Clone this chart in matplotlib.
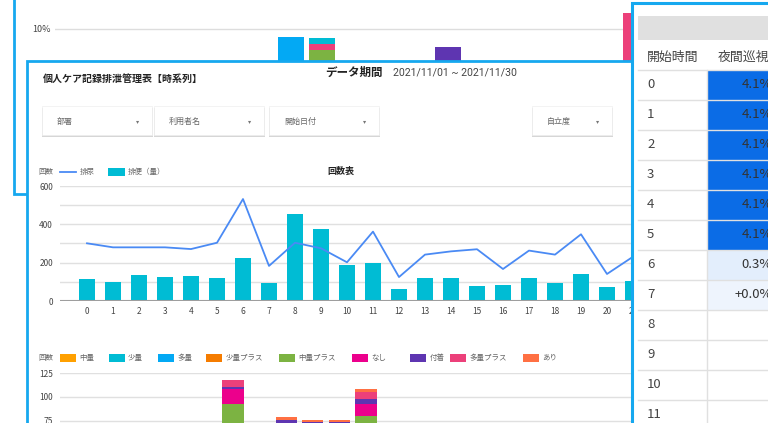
import matplotlib.pyplot as plt
from matplotlib.patches import Rectangle

plt.rcParams['font.family'] = ['Noto Sans CJK JP', 'DejaVu Sans']

# --- data -------------------------------------------------------------
# background chart (percent share, partly hidden)
bg_cats = [7, 8, 12, 18]
bg_green = [0, 8.76, 0, 0]
bg_pink = [0, 0.36, 0, 10.94]
bg_cyan = [0, 0.35, 0, 0]
bg_blue = [9.53, 0, 0, 0]
bg_purple = [0, 0, 8.94, 0]

# 回数表 (hours 0-21 visible)
hours = list(range(22))
urine = [301, 280, 280, 280, 271, 304, 532, 183, 304, 275, 202, 362,
         125, 242, 259, 270, 167, 263, 242, 348, 141, 231]
stool = [115, 101, 137, 125, 129, 122, 226, 92, 456, 377, 190, 197,
         61, 120, 120, 78, 84, 120, 94, 139, 75, 103]

# stacked chart by amount
stack_hours = [6, 8, 9, 10, 11]
stack_names = ['中量', '少量', '多量', '少量プラス', '中量プラス', 'なし', '付着', '多量プラス', 'あり']
stack_colors = ['#FFA000', '#00BCD4', '#03A9F4', '#F57C00', '#7CB342',
                '#EC008C', '#5E35B1', '#EC407A', '#FF7043']
stack_vals = [
    [0, 0, 0, 0, 0],
    [0, 0, 0, 0, 0],
    [0, 0, 0, 0, 0],
    [0, 0, 0, 0, 0],
    [93, 62, 55, 55, 80],
    [15, 9, 10, 10, 13],
    [3, 5, 8, 8, 5],
    [7, 0, 0, 0, 7],
    [0, 3, 3, 3, 3],
]

# table
table_hours = list(range(12))
table_vals = ['4.1%'] * 6 + ['0.3%', '+0.0%'] + ['-'] * 4
table_cols = ['#0B6CE6'] * 6 + ['#E3EEFC', '#EEF4FD'] + ['white'] * 4

W, H = 768, 423
BLUE = '#16A8EF'
fig = plt.figure(figsize=(7.68, 4.23), dpi=100)


def box(x0, y0, x1, y1, z):
    return fig.add_axes([x0 / W, 1 - y1 / H, (x1 - x0) / W, (y1 - y0) / H], zorder=z)


def layer(z):
    ax = box(0, 0, W, H, z)
    ax.set_xlim(0, W)
    ax.set_ylim(H, 0)
    ax.axis('off')
    return ax


# --- background panel --------------------------------------------------
L0 = layer(0)
L0.add_patch(Rectangle((14, -20), 900, 214, fc='white', ec=BLUE, lw=2))

ax0 = box(55, 0, W, 199, 1)
ax0.patch.set_alpha(0)
w0 = 0.83
ax0.bar(bg_cats, bg_blue, w0, color='#03A9F4')
ax0.bar(bg_cats, bg_purple, w0, color='#5E35B1')
ax0.bar(bg_cats, bg_green, w0, color='#7CB342')
ax0.bar(bg_cats, bg_pink, w0, bottom=bg_green, color='#EC407A')
ax0.bar(bg_cats, bg_cyan, w0, bottom=[a + b for a, b in zip(bg_green, bg_pink)], color='#00BCD4')
ax0.set_xlim(-0.5, 22.2)
ax0.set_ylim(0, 199 / 17)
ax0.set_yticks([10], ['10%'])
ax0.set_xticks([])
ax0.grid(axis='y', color='#DDDDDD', lw=1)
ax0.set_axisbelow(True)
ax0.tick_params(length=0, labelsize=6.5, colors='#444', pad=3)
for s in ax0.spines.values():
    s.set_visible(False)

# --- front panel -------------------------------------------------------
L1 = layer(2)
L1.add_patch(Rectangle((27, 61), 700, 400, fc='white', ec=BLUE, lw=2))
L1.text(43, 79, '個人ケア記録排泄管理表【時系列】', fontsize=7.2, fontweight='bold',
        color='#222', va='center')
L1.text(325, 72, 'データ期間', fontsize=8.3, fontweight='bold', color='#222', va='center')
L1.text(393, 72.5, '2021/11/01 ~ 2021/11/30', fontsize=7.6, color='#444', va='center',
        family='Roboto')

for x0, x1, lab in [(42, 153, '部署'), (154, 265, '利用者名'), (269, 380, '開始日付'),
                    (532, 613, '自立度')]:
    L1.add_patch(Rectangle((x0, 108), x1 - x0, 29, fc='#D6D6D6', ec='none'))
    L1.add_patch(Rectangle((x0, 106.5), x1 - x0 - 1, 29, fc='white', ec='#EEEEEE', lw=0.5))
    L1.text(x0 + 15, 121, lab, fontsize=5.8, color='#666', va='center')
    L1.text(x1 - 15, 121, '▾', fontsize=4.5, color='#777', va='center', ha='center')

# legend chart 1
L1.text(38, 172, '回数', fontsize=5.4, color='#666', va='center')
L1.plot([60, 76], [172, 172], color='#4A8AF4', lw=1.3)
L1.text(80, 172, '排尿', fontsize=5.4, color='#666', va='center')
L1.add_patch(Rectangle((108, 168.5), 17, 7.5, fc='#00BCD4'))
L1.text(128, 172, '排便（量）', fontsize=5.4, color='#666', va='center')
L1.text(341, 171.5, '回数表', fontsize=6.5, fontweight='bold', color='#222',
        va='center', ha='center')

# legend chart 2
L1.text(38, 358, '回数', fontsize=5.4, color='#666', va='center')
leg_x = [60, 108.5, 158, 206, 279, 352, 410, 450, 523]
for lx, name, col in zip(leg_x, stack_names, stack_colors):
    L1.add_patch(Rectangle((lx, 354.5), 16, 7.5, fc=col))
    L1.text(lx + 19.5, 358, name, fontsize=5.4, color='#666', va='center')

# --- chart 1: 回数表 ----------------------------------------------------
ax1 = box(60, 186, 700, 301, 3)
ax1.patch.set_alpha(0)
ax1.bar(hours, stool, 0.65, color='#00BCD4', zorder=2)
ax1.plot(hours, urine, color='#4A8AF4', lw=1.3, zorder=3)
ax1.axhline(0, color='#9E9E9E', lw=1.5, zorder=4)
ax1.set_xlim(-27 / 26, (700 - 87) / 26)
ax1.set_ylim(0, 600)
ax1.set_yticks([0, 200, 400, 600])
ax1.set_yticks([100, 300, 500], minor=True)
ax1.set_xticks(hours)
ax1.grid(axis='y', which='both', color='#E0E0E0', lw=1)
ax1.set_axisbelow(True)
ax1.tick_params(which='both', length=0, labelsize=6, colors='#444')
ax1.tick_params(axis='y', pad=5)
ax1.tick_params(axis='x', pad=4)
for s in ax1.spines.values():
    s.set_visible(False)

# --- chart 2: stacked --------------------------------------------------
ax2 = box(60, 373.3, 700, 491.4, 3)
ax2.patch.set_alpha(0)
bottom = [0] * len(stack_hours)
for vals, col in zip(stack_vals, stack_colors):
    ax2.bar(stack_hours, vals, 0.8, bottom=bottom, color=col, zorder=2)
    bottom = [b + v for b, v in zip(bottom, vals)]
ax2.set_xlim((60 - 73.4) / 26.6, (700 - 73.4) / 26.6)
ax2.set_ylim(0, 125)
ax2.set_yticks([75, 100, 125])
ax2.set_xticks([])
ax2.grid(axis='y', color='#E0E0E0', lw=1)
ax2.set_axisbelow(True)
ax2.tick_params(length=0, labelsize=6, colors='#444', pad=5)
for s in ax2.spines.values():
    s.set_visible(False)

# --- table panel -------------------------------------------------------
L2 = layer(4)
L2.add_patch(Rectangle((632, 3.5), 300, 500, fc='white', ec=BLUE, lw=2.2))
L2.add_patch(Rectangle((638, 16), 200, 24, fc='#E0E0E0', ec='none'))
L2.text(647, 57, '開始時間', fontsize=9.3, color='#444', va='center')
L2.text(718, 57, '夜間巡視', fontsize=9.3, color='#444', va='center')
for i, (h, v, c) in enumerate(zip(table_hours, table_vals, table_cols)):
    y = 70 + 30 * i
    L2.add_patch(Rectangle((707, y), 100, 30, fc=c, ec='none'))
    L2.plot([638, 768], [y, y], color='#E0E0E0', lw=1)
    L2.text(647, y + 15, str(h), fontsize=9.5, color='#444', va='center')
    L2.text(772, y + 15, v, fontsize=9.5, color='#333', va='center', ha='right')
L2.plot([707, 707], [70, 430], color='#E0E0E0', lw=1)

fig.savefig('out.png', dpi=100)
